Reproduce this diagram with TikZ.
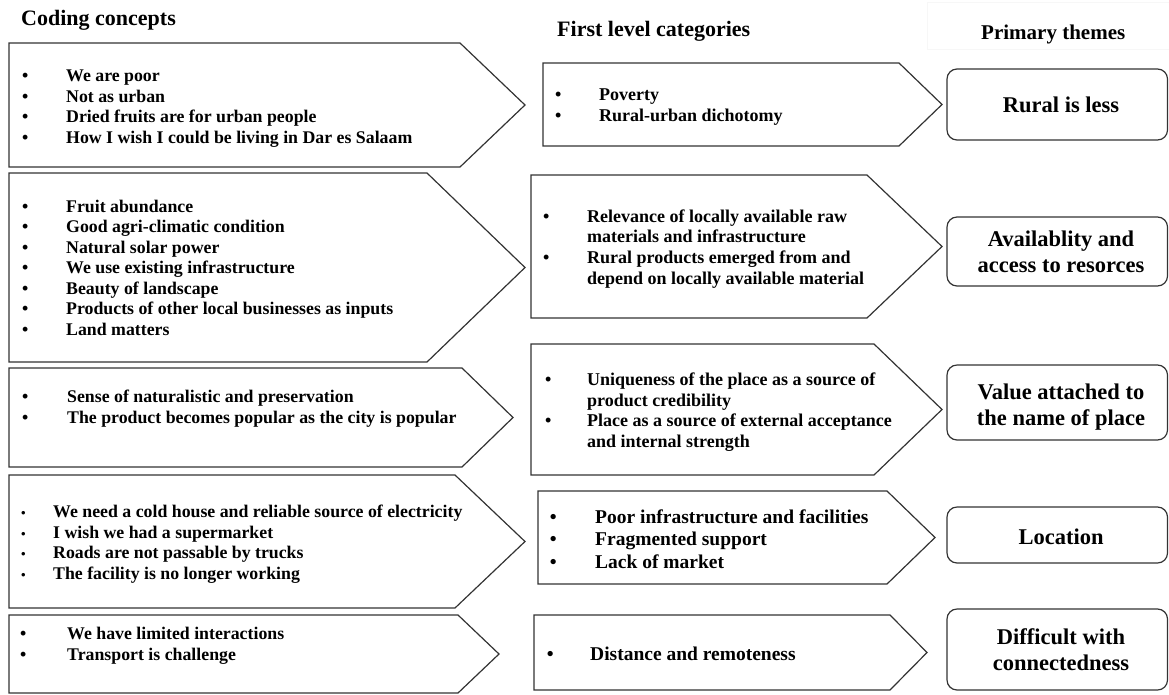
\documentclass[tikz,border=0pt]{standalone}
\usepackage{fontspec}
\setmainfont{Liberation Serif}
\newcommand\bl[1]{\makebox[#1][l]{\textbullet}\strut}
\newcommand\bls[1]{\makebox[#1][l]{{\fontsize{13}{13}\selectfont\textbullet}}\strut}
\newcommand\cl[1]{\makebox[#1][l]{}\strut}
\newcommand\penta[5]{\draw[shapeline] (#1,#2) -- (#3,#2) -- (#4,{(#2+#5)/2}) -- (#3,#5) -- (#1,#5) -- cycle;}
\tikzset{
  shapeline/.style={draw=black!80, line width=1.2pt, line join=miter},
  themebox/.style={draw=black!80, line width=1.2pt, rounded corners=10pt},
  titletext/.style={anchor=base west, inner sep=0pt, font=\bfseries\fontsize{22}{26}\selectfont},
  lefttext/.style={anchor=west, inner sep=0pt, align=left, font=\bfseries\fontsize{17.8}{20.5}\selectfont},
  midtext/.style={anchor=west, inner sep=0pt, align=left, font=\bfseries\fontsize{18}{20.7}\selectfont},
  midtextb/.style={anchor=west, inner sep=0pt, align=left, font=\bfseries\fontsize{19.5}{22.5}\selectfont},
  themetext/.style={anchor=center, inner sep=0pt, align=center, font=\bfseries\fontsize{22.5}{26}\selectfont},
}
\begin{document}
\begin{tikzpicture}[x=1pt,y=-1pt]
\useasboundingbox (0,0) rectangle (1169,694);
% faint frame behind the third title
\draw[black!3, line width=0.8pt] (927,2) rectangle (1169,49);
% titles
\node[titletext] (t1) at (21,25) {Coding concepts};
\node[titletext] (t2) at (557,36) {First level categories};
\node[titletext,font=\bfseries\fontsize{21}{25}\selectfont] (t3) at (981,39) {Primary themes};
% coding concept pentagons
\penta{9}{43}{460}{525}{167}
\penta{9}{173}{427}{525}{362}
\penta{9}{368}{462}{513}{467}
\penta{9}{475}{455}{525}{608}
\penta{9}{615}{458}{499}{693}
% first level category pentagons
\penta{543}{63}{899}{942}{146}
\penta{531}{175}{867}{942}{318}
\penta{531}{344}{874}{942}{475}
\penta{538}{491}{887}{935}{584}
\penta{534}{615}{890}{927}{690}
% theme boxes
\draw[themebox] (947,69) rectangle (1167.5,140);
\draw[themebox] (947,217) rectangle (1167.5,286);
\draw[themebox] (947,365) rectangle (1167.5,440);
\draw[themebox] (947,507) rectangle (1167.5,563);
\draw[themebox] (947,609) rectangle (1167.5,690);
% coding concept texts
\node[lefttext] (c1) at (22,108.5) {\bl{44pt}We are poor\\\bl{44pt}Not as urban\\\bl{44pt}Dried fruits are for urban people\\\bl{44pt}How I wish I could be living in Dar es Salaam};
\node[lefttext] (c2) at (22,269.5) {\bl{44pt}Fruit abundance\\\bl{44pt}Good agri-climatic condition\\\bl{44pt}Natural solar power\\\bl{44pt}We use existing infrastructure\\\bl{44pt}Beauty of landscape\\\bl{44pt}Products of other local businesses as inputs\\\bl{44pt}Land matters};
\node[lefttext] (c3) at (22,409) {\bl{45pt}Sense of naturalistic and preservation\\\bl{45pt}The product becomes popular as the city is popular};
\node[lefttext] (c4) at (21,544.5) {\bls{32pt}We need a cold house and reliable source of electricity\\\bls{32pt}I wish we had a supermarket\\\bls{32pt}Roads are not passable by trucks\\\bls{32pt}The facility is no longer working};
\node[lefttext] (c5) at (20,646) {\bl{47pt}We have limited interactions\\\bl{47pt}Transport is challenge};
% first level category texts
\node[midtext] (m1) at (555,107) {\bl{44pt}Poverty\\\bl{44pt}Rural-urban dichotomy};
\node[midtext] (m2) at (543,249) {\bl{44pt}Relevance of locally available raw\\\cl{44pt}materials and infrastructure\\\bl{44pt}Rural products emerged from and\\\cl{44pt}depend on locally available material};
\node[midtext] (m3) at (545,412.5) {\bl{42pt}Uniqueness of the place as a source of\\\cl{42pt}product credibility\\\bl{42pt}Place as a source of external acceptance\\\cl{42pt}and internal strength};
\node[midtextb] (m4) at (549.6,541) {\bl{45.4pt}Poor infrastructure and facilities\\\bl{45.4pt}Fragmented support\\\bl{45.4pt}Lack of market};
\node[midtextb] (m5) at (546.6,655.5) {\bl{43.4pt}Distance and remoteness};
% primary theme texts
\node[themetext] (p1) at (1061,107) {\strut Rural is less};
\node[themetext] (p2) at (1061,254) {\strut Availablity and\\\strut access to resorces};
\node[themetext] (p3) at (1061,407) {\strut Value attached to\\\strut the name of place};
\node[themetext] (p4) at (1061,539) {\strut Location};
\node[themetext] (p5) at (1061,652) {\strut Difficult with\\\strut connectedness};
\end{tikzpicture}
\end{document}
